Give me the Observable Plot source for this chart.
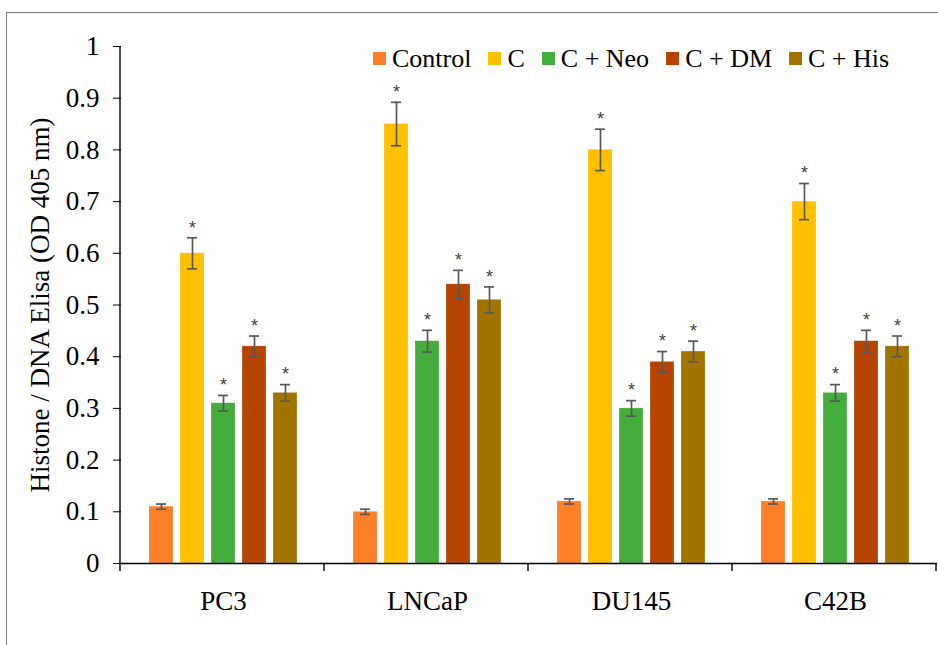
<!DOCTYPE html>
<html>
<head>
<meta charset="utf-8">
<script src="https://cdn.jsdelivr.net/npm/d3@7"></script>
<script src="https://cdn.jsdelivr.net/npm/@observablehq/plot@0.6"></script>
<style>
  body { margin: 0; background: #fff; }
  #wrap { position: relative; width: 938px; height: 645px; overflow: hidden; }
  #frame { position: absolute; left: 6px; top: 12px; width: 1000px; height: 700px;
           border-top: 1.5px solid #7a7a7a; border-left: 1.5px solid #7a7a7a; }
  #chart { position: absolute; left: 0; top: 0; }
  #legend { position: absolute; left: 373px; top: 42px; }
  #legend .lg-swatch { margin-right: 17px !important; font-size: 26px; color: #000; }
  #legend .lg-swatch > svg { margin-right: 6px !important; }
</style>
</head>
<body>
<div id="wrap">
  <div id="frame"></div>
  <div id="chart"></div>
  <div id="legend"></div>
</div>
<script>
// ---- data ----
const groups = ["PC3", "LNCaP", "DU145", "C42B"];
const series = ["Control", "C", "C + Neo", "C + DM", "C + His"];
const colors = ["#FD7F28", "#FFC000", "#44AD3C", "#B54401", "#A17400"];

const pc3Values   = [0.11, 0.60, 0.31, 0.42, 0.33];
const lncapValues = [0.10, 0.85, 0.43, 0.54, 0.51];
const du145Values = [0.12, 0.80, 0.30, 0.39, 0.41];
const c42bValues  = [0.12, 0.70, 0.33, 0.43, 0.42];

const pc3Errors   = [0.005, 0.030, 0.015, 0.020, 0.016];
const lncapErrors = [0.005, 0.042, 0.021, 0.027, 0.025];
const du145Errors = [0.005, 0.040, 0.015, 0.020, 0.020];
const c42bErrors  = [0.005, 0.035, 0.016, 0.021, 0.020];

const significant = [false, true, true, true, true];

const yTicks = [0, 0.1, 0.2, 0.3, 0.4, 0.5, 0.6, 0.7, 0.8, 0.9, 1];
const yTickLabels = ["0", "0.1", "0.2", "0.3", "0.4", "0.5", "0.6", "0.7", "0.8", "0.9", "1"];
const yLabel = "Histone / DNA Elisa (OD 405 nm)";

// ---- table built from arrays ----
const valueSets = [pc3Values, lncapValues, du145Values, c42bValues];
const errorSets = [pc3Errors, lncapErrors, du145Errors, c42bErrors];
const rows = [];
groups.forEach((g, gi) => {
  series.forEach((s, si) => {
    const v = valueSets[gi][si], e = errorSets[gi][si];
    rows.push({group: g, series: s, value: v, lo: v - e, hi: v + e, sig: significant[si]});
  });
});

const serif = "Liberation Serif";

const plot = Plot.plot({
  width: 938,
  height: 645,
  marginLeft: 120,
  marginRight: 1,
  marginTop: 46,
  marginBottom: 82,
  style: {fontSize: "27px", color: "#000", background: "transparent", overflow: "visible"},
  fx: {domain: groups, padding: 0, label: null},
  x: {domain: series, axis: null, paddingInner: 0.22, paddingOuter: 0.87},
  y: {domain: [0, 1]},
  color: {domain: series, range: colors},
  marks: [
    Plot.barY(rows, {fx: "group", x: "series", y: "value", fill: "series", stroke: "#fff", strokeOpacity: 0.4, strokeWidth: 0.6}),
    Plot.ruleX(rows, {fx: "group", x: "series", y1: "lo", y2: "hi", stroke: "#595959", strokeWidth: 1.7}),
    Plot.tickY(rows, {fx: "group", x: "series", y: "lo", stroke: "#595959", strokeWidth: 1.7, insetLeft: 7, insetRight: 7}),
    Plot.tickY(rows, {fx: "group", x: "series", y: "hi", stroke: "#595959", strokeWidth: 1.7, insetLeft: 7, insetRight: 7}),
    Plot.text(rows.filter(d => d.sig), {fx: "group", x: "series", y: "hi", text: () => "*", dy: -10,
      fontSize: 18, fill: "#404040", fontFamily: "Liberation Sans"}),
    Plot.ruleY([0], {stroke: "#000", strokeWidth: 1.4}),
    Plot.axisY(yTicks, {tickFormat: (d, i) => yTickLabels[i], tickSize: 8, tickPadding: 14,
      label: yLabel, labelAnchor: "center", labelArrow: "none", labelOffset: 92, fontSize: 27, fontFamily: serif}),
    Plot.axisFx({anchor: "bottom", tickSize: 0, tickPadding: 27, label: null, fontSize: 27, fontFamily: serif})
  ]
});

document.getElementById("chart").appendChild(plot);
d3.select(plot).selectAll("g[aria-label^='y-axis'] text, g[aria-label^='fx-axis'] text")
  .attr("font-family", serif).style("font-family", serif);

// y axis line and group boundary ticks, positioned from the plot's own scales
const fx = plot.scale("fx");
const ys = plot.scale("y");
const svg = d3.select(plot);
const x0 = 120;
const yb = ys.apply(0), yt = ys.apply(1);
svg.append("line").attr("x1", x0).attr("x2", x0).attr("y1", yt).attr("y2", yb)
  .attr("stroke", "#000").attr("stroke-width", 1.4);
const edges = groups.map(g => fx.apply(g)).concat([fx.apply(groups[groups.length - 1]) + fx.bandwidth]);
edges.forEach(e => {
  svg.append("line").attr("x1", x0 + e - fx.apply(groups[0])).attr("x2", x0 + e - fx.apply(groups[0]))
    .attr("y1", yb).attr("y2", yb + 8).attr("stroke", "#000").attr("stroke-width", 1.4);
});

// legend
const legend = Plot.legend({color: {domain: series, range: colors}, className: "lg", swatchSize: 13});
document.getElementById("legend").appendChild(legend);
d3.select("#legend").selectAll("*").style("font-family", serif);
d3.select("#legend").style("font-family", serif);
</script>
</body>
</html>
